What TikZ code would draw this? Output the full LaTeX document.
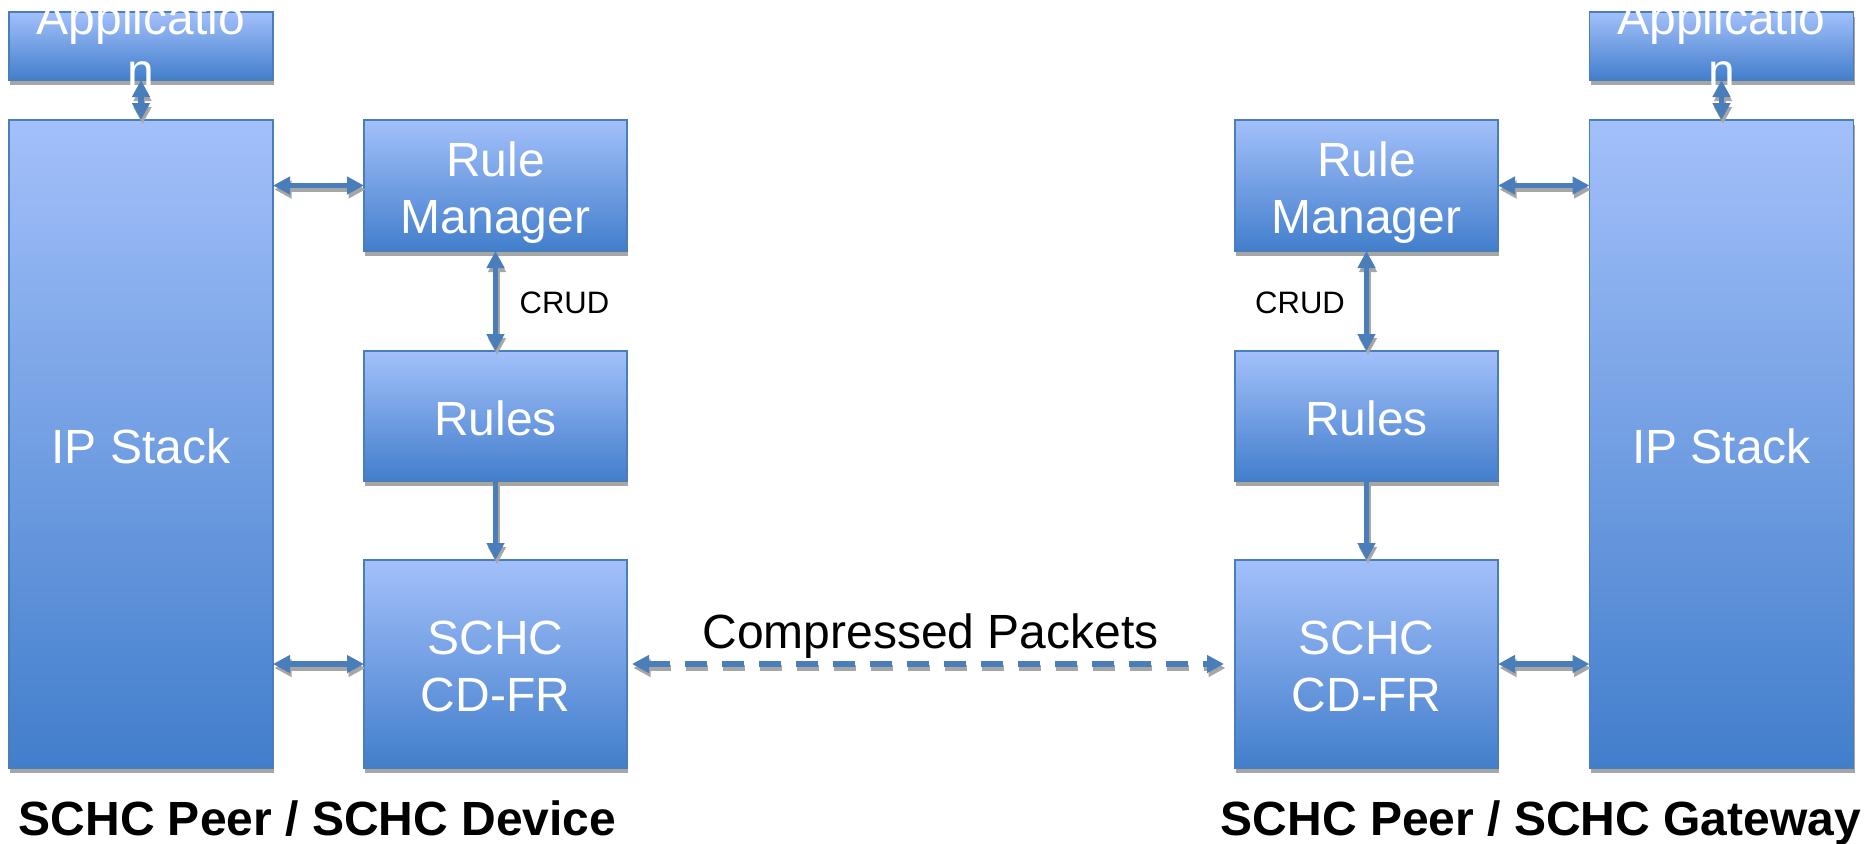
\documentclass[tikz,border=0pt]{standalone}
\usepackage{fontspec}
\setmainfont{Liberation Sans}
\usetikzlibrary{arrows.meta}

\definecolor{boxtop}{RGB}{163,192,250}
\definecolor{boxbot}{RGB}{66,126,204}
\definecolor{boxline}{RGB}{74,126,187}
\definecolor{linkblue}{RGB}{74,126,187}
\definecolor{shadowgray}{RGB}{166,166,166}

% draw a connector twice: a grey offset copy underneath, then the blue one
\newcommand\linkpath[2]{%
  \draw[link,#1,transform canvas={shift={(0.75pt,-2pt)}},draw=shadowgray] #2;
  \draw[link,#1] #2;}

\begin{document}
\begin{tikzpicture}[x=0.5pt,y=-0.5pt,
  >={Triangle[width=8.5pt,length=8.5pt]},
  blk/.style={draw=boxline, line width=0.7pt, top color=boxtop, bottom color=boxbot,
    inner sep=0pt, outer sep=0pt,
    preaction={fill=shadowgray, transform canvas={shift={(0.5pt,-2.5pt)}}}},
  colbox/.style={blk, minimum width=132pt},
  midbox/.style={blk, minimum width=131.5pt},
  link/.style={draw=linkblue, line width=2.75pt},
  lbl/.style={text=white, inner sep=0pt, align=center,
    font=\fontsize{24}{28.5}\selectfont},
  crud/.style={inner sep=0pt, font=\fontsize{15.5}{18}\selectfont},
  caption/.style={inner sep=0pt, font=\fontsize{24}{28}\selectfont\bfseries},
]
\useasboundingbox (0,0) rectangle (1864,843);

% ---------- device side ----------
\node[colbox, minimum height=34pt] (appL) at (141,46) {};
\node[colbox, minimum height=324pt] (ipL) at (141,444) {};
\node[midbox, minimum height=65.5pt] (rmL) at (495.5,185.5) {};
\node[midbox, minimum height=65pt] (rulesL) at (495.5,416) {};
\node[midbox, minimum height=104pt] (schcL) at (495.5,664) {};

\node[lbl, yshift=-1.2pt] (ipLt) at (ipL) {IP Stack};
\node[lbl, yshift=-1.2pt] (rmLt) at (rmL) {Rule\\\smash{Manager}};
\node[lbl, yshift=-1.2pt] (rulesLt) at (rulesL) {Rules};
\node[lbl, yshift=-1.2pt] (schcLt) at (schcL) {SCHC\\CD-FR};
\node[lbl, anchor=base] (appL1) at (141,34) {Applicatio};
\node[lbl, anchor=base] (appL2) at (141,87) {n};

% ---------- gateway side ----------
\node[colbox, minimum height=34pt] (appR) at (1721.5,46) {};
\node[colbox, minimum height=324pt] (ipR) at (1721.5,444) {};
\node[midbox, minimum height=65.5pt] (rmR) at (1366.5,185.5) {};
\node[midbox, minimum height=65pt] (rulesR) at (1366.5,416) {};
\node[midbox, minimum height=104pt] (schcR) at (1366.5,664) {};

\node[lbl, yshift=-1.2pt] (ipRt) at (ipR) {IP Stack};
\node[lbl, yshift=-1.2pt] (rmRt) at (rmR) {Rule\\\smash{Manager}};
\node[lbl, yshift=-1.2pt] (rulesRt) at (rulesR) {Rules};
\node[lbl, yshift=-1.2pt] (schcRt) at (schcR) {SCHC\\CD-FR};
\node[lbl, anchor=base] (appR1) at (1721.5,34) {Applicatio};
\node[lbl, anchor=base] (appR2) at (1721.5,87) {n};

% ---------- connectors ----------
\linkpath{<->}{(appL.south) -- (ipL.north)}
\linkpath{<->}{(rmL.west -| ipL.east) -- (rmL.west)}
\linkpath{<->}{(schcL.west -| ipL.east) -- (schcL.west)}
\linkpath{<->}{(rmL.south) -- (rulesL.north)}
\linkpath{->}{(rulesL.south) -- (schcL.north)}

\linkpath{<->}{(appR.south) -- (ipR.north)}
\linkpath{<->}{(rmR.east) -- (rmR.east -| ipR.west)}
\linkpath{<->}{(schcR.east) -- (schcR.east -| ipR.west)}
\linkpath{<->}{(rmR.south) -- (rulesR.north)}
\linkpath{->}{(rulesR.south) -- (schcR.north)}

\linkpath{<->, dash pattern=on 11pt off 7.5pt, shorten <=2.5pt, shorten >=5.5pt}{(schcL.east) -- (schcR.west)}

% ---------- labels ----------
\node[crud, anchor=base] (crudL) at (564.5,313) {CRUD};
\node[crud, anchor=base] (crudR) at (1300,313) {CRUD};
\node[inner sep=0pt, font=\fontsize{24}{28}\selectfont, anchor=base] (cp) at (930.5,648) {Compressed Packets};
\node[caption, anchor=base] (capL) at (317.5,835) {SCHC Peer / SCHC Device};
\node[caption, anchor=base] (capR) at (1541,835) {SCHC Peer / SCHC Gateway};
\end{tikzpicture}
\end{document}
